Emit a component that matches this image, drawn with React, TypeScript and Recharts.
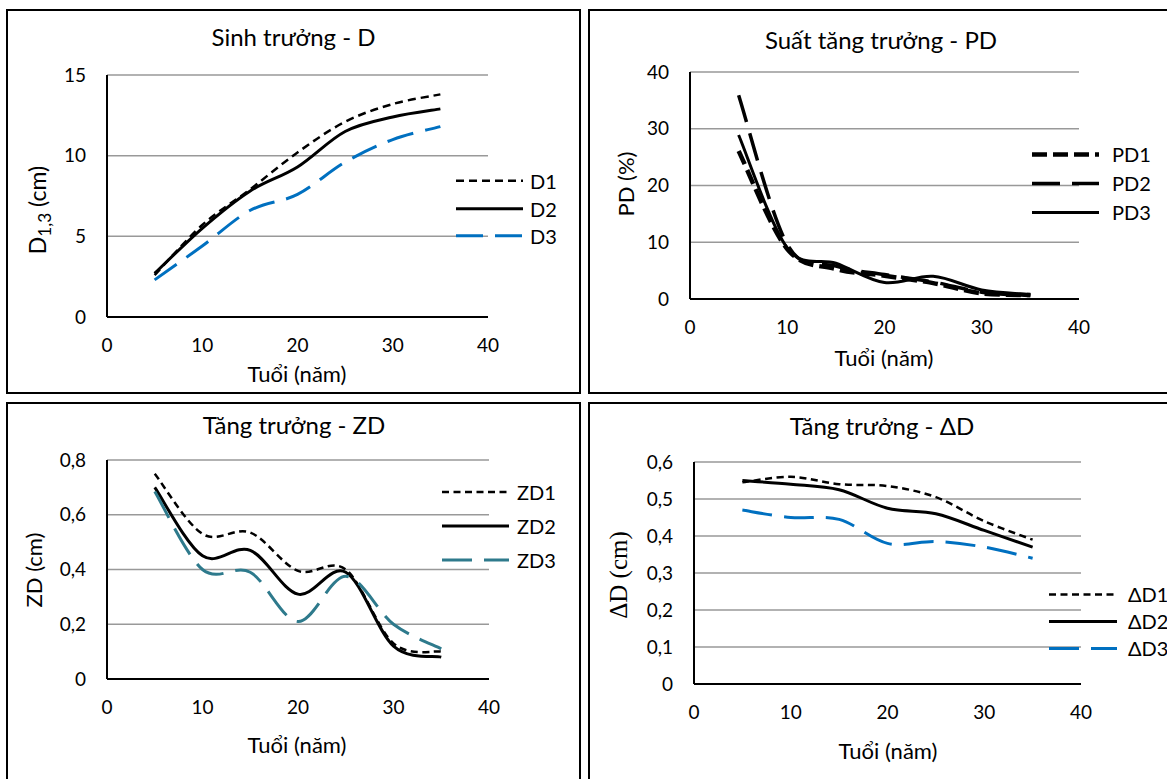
import type { ReactNode } from 'react'
import { CartesianGrid, Legend, Line, LineChart, XAxis, YAxis } from 'recharts'

// Tuổi (năm)
const TUOI = [5, 10, 15, 20, 25, 30, 35]

// Sinh trưởng - D (cm)
const D1 = [2.6, 5.7, 7.9, 10.2, 12.1, 13.2, 13.8]
const D2 = [2.7, 5.5, 7.8, 9.3, 11.5, 12.4, 12.9]
const D3 = [2.3, 4.4, 6.6, 7.6, 9.6, 11.0, 11.8]

// Suất tăng trưởng - PD (%)
const PD1 = [26.1, 8.8, 5.3, 4.1, 2.8, 1.0, 0.7]
const PD2 = [35.9, 9.6, 5.8, 4.3, 3.0, 1.2, 0.6]
const PD3 = [28.9, 9.0, 6.3, 2.9, 4.0, 1.6, 0.8]

// Tăng trưởng - ZD (cm)
const ZD1 = [0.75, 0.53, 0.535, 0.395, 0.4, 0.13, 0.1]
const ZD2 = [0.7, 0.45, 0.47, 0.31, 0.39, 0.12, 0.08]
const ZD3 = [0.685, 0.4, 0.39, 0.21, 0.375, 0.2, 0.11]

// Tăng trưởng - ΔD (cm)
const DD1 = [0.545, 0.56, 0.54, 0.535, 0.505, 0.44, 0.39]
const DD2 = [0.55, 0.54, 0.525, 0.475, 0.46, 0.415, 0.37]
const DD3 = [0.47, 0.45, 0.445, 0.38, 0.385, 0.37, 0.34]

const TICKS_X = [0, 10, 20, 30, 40]
const TICKS_D = [0, 5, 10, 15]
const TICKS_PD = [0, 10, 20, 30, 40]
const TICKS_ZD = [0, 0.2, 0.4, 0.6, 0.8]
const TICKS_DD = [0, 0.1, 0.2, 0.3, 0.4, 0.5, 0.6]

const FUENTE = 'Lato, "Open Sans", sans-serif'
const AZUL = '#0070C0'
const TEAL = '#2E7A8C'
const GRIS = '#999999'

type Serie = { nombre: string; valores: number[]; color: string; ancho: number; dash?: string }

// suavizado tipo Excel (Catmull-Rom)
function curvaSuave(context: any) {
  let pts: number[][] = []
  return {
    areaStart() {},
    areaEnd() {},
    lineStart() {
      pts = []
    },
    point(x: number, y: number) {
      pts.push([+x, +y])
    },
    lineEnd() {
      if (pts.length === 0) return
      context.moveTo(pts[0][0], pts[0][1])
      for (let i = 0; i < pts.length - 1; i++) {
        const a = pts[i - 1] ?? pts[i]
        const b = pts[i]
        const c = pts[i + 1]
        const d = pts[i + 2] ?? c
        context.bezierCurveTo(
          b[0] + (c[0] - a[0]) / 6,
          b[1] + (c[1] - a[1]) / 6,
          c[0] - (d[0] - b[0]) / 6,
          c[1] - (d[1] - b[1]) / 6,
          c[0],
          c[1],
        )
      }
    },
  }
}

const coma = (v: number) => (v === 0 ? '0' : String(v).replace('.', ','))

interface Grafico {
  titulo: ReactNode
  ejeY: ReactNode
  ejeYFuente?: string
  ejeYTam?: number
  series: Serie[]
  dominioY: [number, number]
  ticksY: number[]
  formato?: (v: number) => string
  caja: { left: number; top: number; width: number; height: number }
  plot: { x0: number; x1: number; yTop: number; yBot: number }
  tituloPos: [number, number]
  ejeXPos: [number, number]
  ejeYPos: [number, number]
  leyenda: { x: number; y: number; fila: number; largo: number; gap: number }
}

const YW = 60
const XH = 40
const TAM_TICK = 19

function Panel({ g }: { g: Grafico }) {
  const { caja, plot } = g
  const filas = TUOI.map((t, i) => {
    const fila: Record<string, number> = { tuoi: t }
    g.series.forEach((s) => (fila[s.nombre] = s.valores[i]))
    return fila
  })
  const margin = {
    top: plot.yTop - caja.top,
    right: caja.left + caja.width - plot.x1,
    left: plot.x0 - caja.left - YW,
    bottom: caja.top + caja.height - plot.yBot - XH,
  }
  const ley = g.leyenda
  return (
    <>
      <div style={{ position: 'absolute', left: caja.left, top: caja.top }}>
        <LineChart width={caja.width} height={caja.height} data={filas} margin={margin}>
          <CartesianGrid vertical={false} stroke={GRIS} strokeWidth={1.5} />
          <XAxis
            dataKey="tuoi"
            type="number"
            domain={[0, 40]}
            ticks={TICKS_X}
            height={XH}
            axisLine={{ stroke: '#000', strokeWidth: 2 }}
            tickLine={false}
            tickSize={0}
            tickMargin={22}
            tick={{ fill: '#000', fontSize: TAM_TICK, fontFamily: FUENTE }}
          />
          <YAxis
            type="number"
            domain={g.dominioY}
            ticks={g.ticksY}
            width={YW}
            interval={0}
            tickFormatter={g.formato}
            axisLine={{ stroke: '#000', strokeWidth: 2 }}
            tickLine={false}
            tickSize={0}
            tickMargin={21}
            tick={{ fill: '#000', fontSize: TAM_TICK, fontFamily: FUENTE }}
          />
          <Legend
            layout="vertical"
            align="center"
            verticalAlign="middle"
            wrapperStyle={{
              left: ley.x - caja.left,
              top: ley.y - caja.top - ley.fila / 2,
              width: 'auto',
              margin: 0,
            }}
            content={() => (
              <div>
                {g.series.map((s) => (
                  <div key={s.nombre} style={{ display: 'flex', alignItems: 'center', height: ley.fila }}>
                    <svg width={ley.largo} height={ley.fila}>
                      <line
                        x1={0}
                        x2={ley.largo}
                        y1={ley.fila / 2}
                        y2={ley.fila / 2}
                        stroke={s.color}
                        strokeWidth={s.ancho}
                        strokeDasharray={s.dash}
                      />
                    </svg>
                    <span style={{ marginLeft: ley.gap, fontSize: 20, fontFamily: FUENTE, lineHeight: 1 }}>
                      {s.nombre}
                    </span>
                  </div>
                ))}
              </div>
            )}
          />
          {g.series.map((s) => (
            <Line
              key={s.nombre}
              dataKey={s.nombre}
              type={curvaSuave as any}
              stroke={s.color}
              strokeWidth={s.ancho}
              strokeDasharray={s.dash}
              dot={false}
              activeDot={false}
              isAnimationActive={false}
            />
          ))}
        </LineChart>
      </div>
      <Texto x={g.tituloPos[0]} y={g.tituloPos[1]} size={24}>
        {g.titulo}
      </Texto>
      <Texto x={g.ejeXPos[0]} y={g.ejeXPos[1]} size={22}>
        Tuổi (năm)
      </Texto>
      <Texto x={g.ejeYPos[0]} y={g.ejeYPos[1]} size={g.ejeYTam ?? 22} rotar fuente={g.ejeYFuente}>
        {g.ejeY}
      </Texto>
    </>
  )
}

function Texto({
  x,
  y,
  size,
  rotar,
  fuente,
  children,
}: {
  x: number
  y: number
  size: number
  rotar?: boolean
  fuente?: string
  children: ReactNode
}) {
  return (
    <div
      style={{
        position: 'absolute',
        left: x,
        top: y,
        transform: `translate(-50%, -50%)${rotar ? ' rotate(-90deg)' : ''}`,
        fontSize: size,
        fontFamily: fuente ?? FUENTE,
        lineHeight: 1,
        whiteSpace: 'nowrap',
        color: '#000',
      }}
    >
      {children}
    </div>
  )
}

const GRAFICOS: Grafico[] = [
  {
    titulo: 'Sinh trưởng - D',
    ejeY: (
      <>
        D<sub style={{ fontSize: '0.75em', verticalAlign: '-0.3em' }}>1,3</sub> (cm)
      </>
    ),
    ejeYTam: 23,
    series: [
      { nombre: 'D1', valores: D1, color: '#000', ancho: 2.5, dash: '8 5' },
      { nombre: 'D2', valores: D2, color: '#000', ancho: 3 },
      { nombre: 'D3', valores: D3, color: AZUL, ancho: 3, dash: '27 12' },
    ],
    dominioY: [0, 15],
    ticksY: TICKS_D,
    caja: { left: 8, top: 11, width: 572, height: 381 },
    plot: { x0: 107, x1: 488, yTop: 75, yBot: 317 },
    tituloPos: [293.5, 37],
    ejeXPos: [297, 374],
    ejeYPos: [40, 210],
    leyenda: { x: 456, y: 181, fila: 27.5, largo: 67, gap: 7 },
  },
  {
    titulo: 'Suất tăng trưởng - PD',
    ejeY: 'PD (%)',
    series: [
      { nombre: 'PD1', valores: PD1, color: '#000', ancho: 4.5, dash: '15 6' },
      { nombre: 'PD2', valores: PD2, color: '#000', ancho: 3.5, dash: '28 12' },
      { nombre: 'PD3', valores: PD3, color: '#000', ancho: 3 },
    ],
    dominioY: [0, 40],
    ticksY: TICKS_PD,
    caja: { left: 590, top: 11, width: 577, height: 381 },
    plot: { x0: 690, x1: 1079, yTop: 72, yBot: 299 },
    tituloPos: [881, 40],
    ejeXPos: [884, 358],
    ejeYPos: [626, 184],
    leyenda: { x: 1032, y: 154, fila: 29, largo: 67, gap: 13 },
  },
  {
    titulo: 'Tăng trưởng - ZD',
    ejeY: 'ZD (cm)',
    series: [
      { nombre: 'ZD1', valores: ZD1, color: '#000', ancho: 2.5, dash: '7 4.5' },
      { nombre: 'ZD2', valores: ZD2, color: '#000', ancho: 3 },
      { nombre: 'ZD3', valores: ZD3, color: TEAL, ancho: 3, dash: '30 12' },
    ],
    dominioY: [0, 0.8],
    ticksY: TICKS_ZD,
    formato: coma,
    caja: { left: 8, top: 404, width: 572, height: 375 },
    plot: { x0: 107, x1: 489, yTop: 460, yBot: 679 },
    tituloPos: [294, 425],
    ejeXPos: [297, 745],
    ejeYPos: [34, 570],
    leyenda: { x: 442, y: 492, fila: 34, largo: 67, gap: 8 },
  },
  {
    titulo: 'Tăng trưởng - ΔD',
    ejeY: 'ΔD (cm)',
    ejeYFuente: '"Liberation Serif", serif',
    ejeYTam: 25,
    series: [
      { nombre: 'ΔD1', valores: DD1, color: '#000', ancho: 2.5, dash: '7 4.5' },
      { nombre: 'ΔD2', valores: DD2, color: '#000', ancho: 3 },
      { nombre: 'ΔD3', valores: DD3, color: AZUL, ancho: 3, dash: '30 12' },
    ],
    dominioY: [0, 0.6],
    ticksY: TICKS_DD,
    formato: coma,
    caja: { left: 590, top: 404, width: 577, height: 375 },
    plot: { x0: 694, x1: 1081, yTop: 462, yBot: 684 },
    tituloPos: [882, 426],
    ejeXPos: [888, 751],
    ejeYPos: [618, 575],
    leyenda: { x: 1049, y: 594, fila: 27, largo: 68, gap: 11 },
  },
]

const MARCOS = [
  { left: 6, top: 9, width: 575, height: 385 },
  { left: 588, top: 9, width: 590, height: 385 },
  { left: 6, top: 402, width: 575, height: 400 },
  { left: 588, top: 402, width: 590, height: 400 },
]

export default function App() {
  return (
    <div
      style={{
        position: 'absolute',
        left: 0,
        top: 0,
        width: 1167,
        height: 779,
        overflow: 'hidden',
        background: '#fff',
        fontFamily: FUENTE,
      }}
    >
      {MARCOS.map((m, i) => (
        <div
          key={i}
          style={{ position: 'absolute', ...m, border: '2px solid #000', boxSizing: 'border-box' }}
        />
      ))}
      {GRAFICOS.map((g, i) => (
        <Panel key={i} g={g} />
      ))}
    </div>
  )
}
